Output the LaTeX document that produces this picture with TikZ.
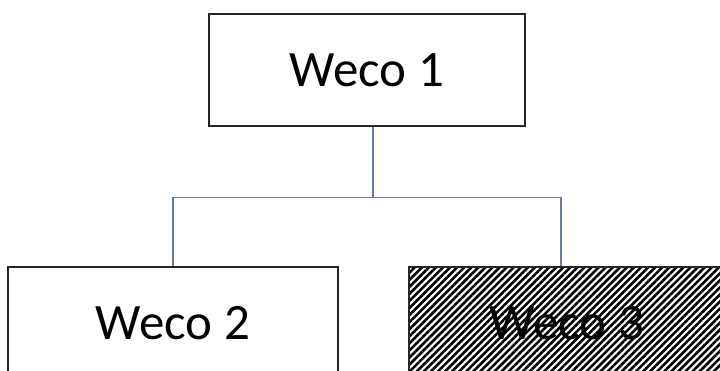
\documentclass[tikz,border=0pt]{standalone}
\usepackage{fontspec}
\setmainfont{Carlito}
\usetikzlibrary{positioning, patterns.meta}
\definecolor{linkblue}{RGB}{98,124,160}
\tikzset{
    x=1pt, y=-1pt, % coordinates in pixels of the reference, y going down
    box/.style={draw=black!85, line width=1.4pt, fill=white, minimum width=316pt, minimum height=112pt, inner sep=0pt, font=\fontsize{51}{60}\selectfont}, % one box of the chart
    hatched/.style={box, pattern={Lines[angle=45, distance=5pt, line width=2.6pt]}}, % striped box
    link/.style={draw=linkblue, line width=1.6pt} % lines between the boxes
}

\begin{document}
\begin{tikzpicture}
		\clip (0,0) rectangle (720,371);
		% Cajas
		\node[box](W1) at (367,70) {Weco 1};
		\node[box, minimum width=330pt](W2) at (173,323) {Weco 2};
		\node[hatched](W3) at (567,323) {Weco 3};
		
		% Lineas
		\draw[link] ([xshift=6pt]W1.south) -- ++(0,71) coordinate (hub);
		\draw[link] (hub) -| (W2.north);
		\draw[link] (hub) -| ([xshift=-6pt]W3.north);
	\end{tikzpicture}
\end{document}
